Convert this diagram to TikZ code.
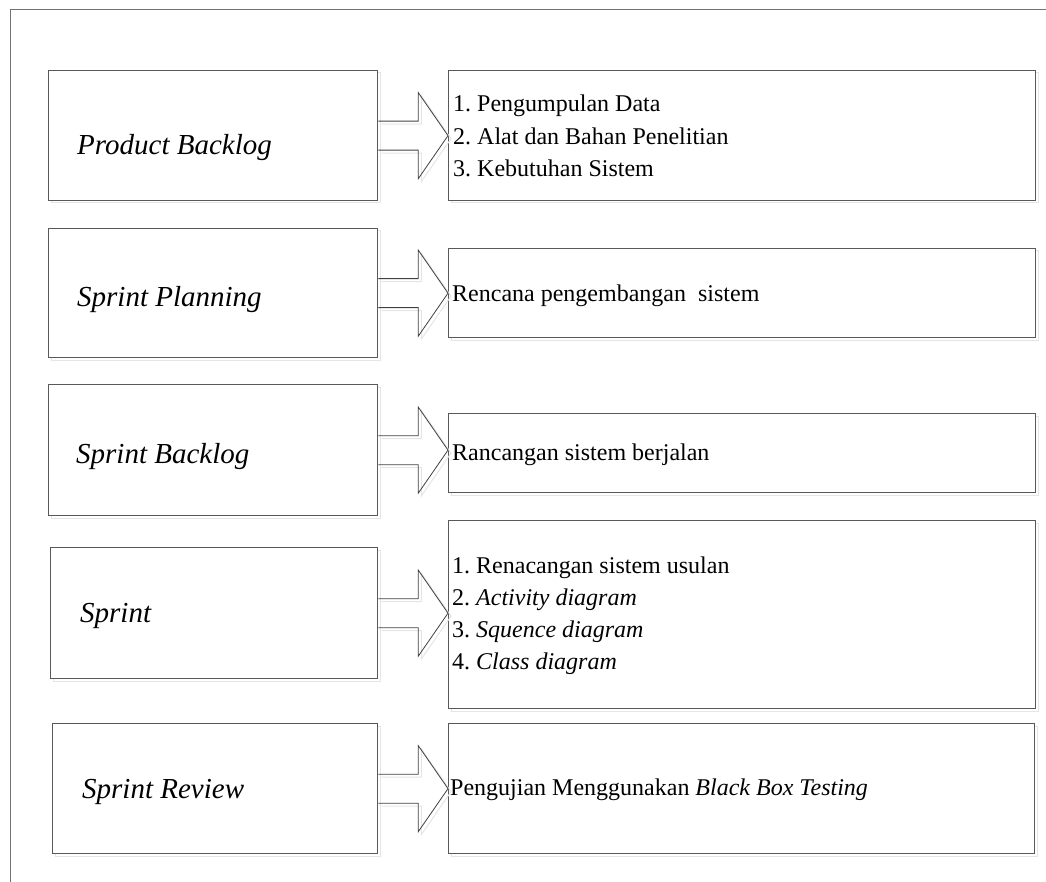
\documentclass[tikz,border=0pt]{standalone}
\usepackage{fontspec}
\setmainfont{Liberation Serif}
\usetikzlibrary{calc}
\frenchspacing

% box with a faint offset outline behind it
\newcommand{\placebox}[5]{%
  \draw[ghost] (#2+3,#3+3) rectangle ++(#4,#5);
  \node[stagebox, minimum width=#4, minimum height=#5] (#1) at (#2,#3) {};}

% hollow block arrow from a stage box to its result box
\newcommand{\flowarrow}[2]{%
  \draw[ghost, transform canvas={shift={(3pt,-3pt)}}]
    ($(#1.east)+(0,-14.5)$) -- ++(40,0) -- ++(0,-28.5) -- (#2.west |- #1.east)
    -- ($(#1.east)+(40,43)$) -- ++(0,-28.5) -- ($(#1.east)+(0,14.5)$);
  \draw[blockarrow]
    ($(#1.east)+(0,-14.5)$) -- ++(40,0) -- ++(0,-28.5) -- (#2.west |- #1.east)
    -- ($(#1.east)+(40,43)$) -- ++(0,-28.5) -- ($(#1.east)+(0,14.5)$);}

\begin{document}
\frenchspacing
\begin{tikzpicture}[x=1pt,y=-1pt,
  framerule/.style={draw=black!55, line width=1pt},
  stagebox/.style={draw=black!65, line width=1.3pt, fill=white, inner sep=0pt, anchor=north west},
  ghost/.style={draw=black!10, line width=1pt},
  blockarrow/.style={draw=black!75, line width=0.8pt, line join=miter},
  stagelabel/.style={font=\fontsize{29}{34}\selectfont\itshape, anchor=base west, inner sep=0pt},
  itemtext/.style={font=\fontsize{24}{32}\selectfont, anchor=base west, inner sep=0pt}]
\useasboundingbox (0,0) rectangle (1046,882);

% open frame along the top and left
\coordinate (frameTL) at (10,10);
\coordinate (frameTR) at (1046,10);
\coordinate (frameBL) at (10,882);
\draw[framerule] (frameTR) -- (frameTL) -- (frameBL);

% stage boxes (left) and result boxes (right)
\placebox{l1}{48}{70}{329}{130}
\placebox{r1}{448}{70}{587}{130}
\placebox{l2}{48}{228}{329}{129}
\placebox{r2}{448}{248}{587}{89}
\placebox{l3}{48}{384}{329}{131}
\placebox{r3}{448}{413}{587}{79}
\placebox{l4}{50}{547}{327}{131}
\placebox{r4}{448}{520}{587}{188}
\placebox{l5}{52}{723}{325}{130}
\placebox{r5}{448}{723}{586}{130}

% arrows
\flowarrow{l1}{r1}
\flowarrow{l2}{r2}
\flowarrow{l3}{r3}
\flowarrow{l4}{r4}
\flowarrow{l5}{r5}

% stage names
\node[stagelabel] (t1) at (77,155) {Product Backlog};
\node[stagelabel] (t2) at (77,307) {Sprint Planning};
\node[stagelabel] (t3) at (76,463) {Sprint Backlog};
\node[stagelabel] (t4) at (80,622) {Sprint};
\node[stagelabel] (t5) at (82,798) {Sprint Review};

% results
\node[itemtext] (a1) at (453,112) {1. Pengumpulan Data};
\node[itemtext] (a2) at (453,145) {2. Alat dan Bahan Penelitian};
\node[itemtext] (a3) at (453,177) {3. Kebutuhan Sistem};
\node[itemtext] (b1) at (452,302) {Rencana pengembangan~~sistem};
\node[itemtext] (c1) at (452,460) {Rancangan sistem berjalan};
\node[itemtext] (d1) at (452,573) {1. Renacangan sistem usulan};
\node[itemtext] (d2) at (452,605) {2. \textit{Activity diagram}};
\node[itemtext] (d3) at (452,637) {3. \textit{Squence diagram}};
\node[itemtext] (d4) at (452,669) {4. \textit{Class diagram}};
\node[itemtext] (e1) at (450,795) {Pengujian Menggunakan \textit{Black Box Testing}};
\end{tikzpicture}
\end{document}
